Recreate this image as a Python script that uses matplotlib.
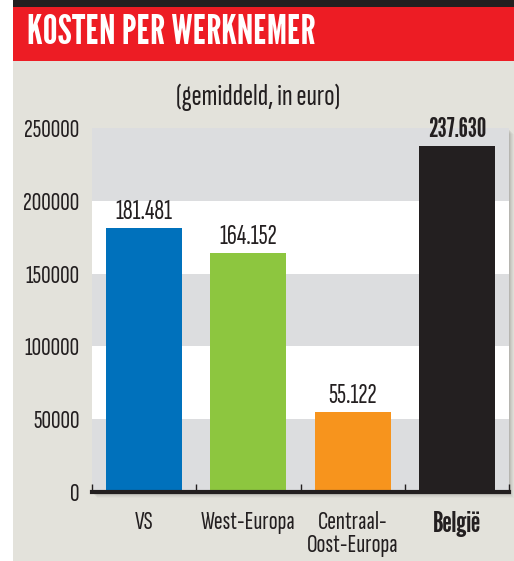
import numpy as np
import matplotlib.pyplot as plt
from matplotlib.patches import Rectangle

# Data
categories = ['VS', 'West-Europa', 'Centraal-\nOost-Europa', 'België']
values = [181481, 164152, 55122, 237630]
value_labels = ['181.481', '164.152', '55.122', '237.630']
bar_colors = ['#0071bc', '#8dc63f', '#f7941d', '#231f20']
yticks = [0, 50000, 100000, 150000, 200000, 250000]

FONT = ['Sofia Sans Extra Condensed', 'Liberation Sans Narrow', 'DejaVu Sans']
FONT_B = ['League Gothic', 'Anton', 'Saira ExtraCondensed', 'Liberation Sans Narrow', 'DejaVu Sans']
TITLE_FONT = ['League Gothic', 'Anton', 'Saira ExtraCondensed', 'DejaVu Sans']
TXT = '#231f20'

W, H = 514, 561
fig = plt.figure(figsize=(W / 100, H / 100), dpi=100, facecolor='white')

# Backgrounds: beige panel, red title band, black strip on top
fig.patches.append(Rectangle((13 / W, 0), 1, (H - 61) / H, transform=fig.transFigure,
                             facecolor='#e3e2db', edgecolor='none', zorder=-3))
fig.patches.append(Rectangle((13 / W, (H - 61) / H), 1, 54 / H, transform=fig.transFigure,
                             facecolor='#ed1c24', edgecolor='none', zorder=-3))
fig.patches.append(Rectangle((13 / W, (H - 7) / H), 1, 7 / H, transform=fig.transFigure,
                             facecolor='#231f20', edgecolor='none', zorder=-3))

fig.text(27 / W, (H - 33) / H, 'KOSTEN PER WERKNEMER', color='white', fontsize=30,
         fontweight='bold', family=TITLE_FONT, ha='left', va='center')
fig.text(258 / W, (H - 97) / H, '(gemiddeld, in euro)', color=TXT, fontsize=22,
         family=FONT, ha='center', va='center')

left, right, top, bottom = 92, 509, 128, 492
ax = fig.add_axes([left / W, (H - bottom) / H, (right - left) / W, (bottom - top) / H])

# soft shadow behind the plot area
for i, a in enumerate([0.06, 0.05, 0.04, 0.03, 0.02]):
    fig.patches.append(Rectangle(((left + 1 + i) / W, (H - bottom - 2 - i) / H),
                                 (right - left) / W, (bottom - top) / H,
                                 transform=fig.transFigure, facecolor='black',
                                 alpha=a, edgecolor='none', zorder=-2))

ax.set_facecolor('white')
for i in range(len(yticks) - 1):
    if i % 2 == 0:
        ax.axhspan(yticks[i], yticks[i + 1], color='#dcdddf', lw=0, zorder=0)

x = np.arange(len(categories))
ax.bar(x, values, width=0.73, color=bar_colors, zorder=2)

for xi, v, lab in zip(x, values, value_labels):
    bold = lab == '237.630'
    ax.text(xi, v + 2500, lab, ha='center', va='bottom', fontsize=19 if bold else 20,
            color=TXT, family=FONT_B if bold else FONT,
            fontweight='bold' if bold else 'normal', zorder=3)

ax.set_xlim(-0.5, 3.5)
ax.set_ylim(0, 250000)
ax.set_yticks(yticks)
ax.set_yticklabels([str(t) for t in yticks], family=FONT, fontsize=19, color=TXT)
ax.tick_params(axis='y', length=0, pad=9)

ax.set_xticks(x)
ax.set_xticklabels(categories, family=FONT, fontsize=19, color=TXT, linespacing=0.95)
for lbl in ax.get_xticklabels():
    if lbl.get_text() == 'België':
        lbl.set_fontweight('bold')
        lbl.set_family(FONT_B)
        lbl.set_fontsize(21)
ax.tick_params(axis='x', length=0, pad=14)
ax.set_xticks(np.arange(-0.5, 4.0, 1.0), minor=True)
ax.tick_params(axis='x', which='minor', direction='in', length=6, width=1, color=TXT)

for s in ['top', 'right', 'left']:
    ax.spines[s].set_visible(False)
ax.spines['bottom'].set_linewidth(3)
ax.spines['bottom'].set_color(TXT)

fig.savefig('out.png', dpi=100, facecolor='white')
